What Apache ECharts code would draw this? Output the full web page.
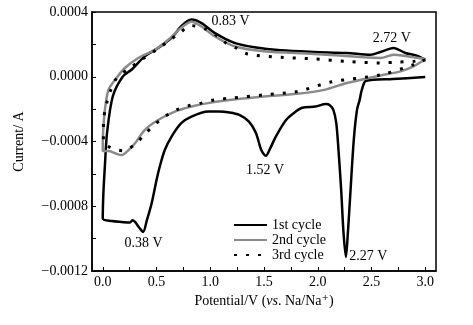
<!DOCTYPE html>
<html>
<head>
<meta charset="utf-8">
<script src="https://cdn.jsdelivr.net/npm/echarts@6/dist/echarts.min.js"></script>
<style>
  html, body { margin: 0; padding: 0; background: #fff; }
  #cv { width: 473px; height: 325px; }
</style>
</head>
<body>
<div id="cv"></div>
<script>
// potential (V) / current (A), in scan order
var cycle1 = [
    [3.00, -0.000002], [2.70, -0.000014], [2.45, -0.000025], [2.41, -0.000081],
    [2.39, -0.000143], [2.365, -0.000205], [2.335, -0.000391], [2.305, -0.000701],
    [2.28, -0.000967], [2.262, -0.001114], [2.24, -0.000967], [2.218, -0.000701],
    [2.193, -0.000453], [2.172, -0.000285], [2.145, -0.000205], [2.11, -0.000174],
    [2.075, -0.000169], [1.98, -0.000184], [1.855, -0.000192], [1.795, -0.000215],
    [1.705, -0.000267], [1.61, -0.000370], [1.55, -0.000453], [1.518, -0.000488],
    [1.475, -0.000453], [1.425, -0.000347], [1.36, -0.000277], [1.27, -0.000236],
    [1.18, -0.000221], [1.08, -0.000215], [0.98, -0.000215], [0.825, -0.000246],
    [0.73, -0.000287], [0.64, -0.000370], [0.577, -0.000453], [0.53, -0.000556],
    [0.50, -0.000639], [0.455, -0.000781], [0.41, -0.000887], [0.375, -0.000959],
    [0.335, -0.000928], [0.30, -0.000897], [0.275, -0.000887], [0.253, -0.000901],
    [0.175, -0.000897], [0.085, -0.000891], [0.0, -0.000876], [0.006, -0.000719],
    [0.02, -0.000550], [0.04, -0.000347], [0.093, -0.000122], [0.185, 0.0],
    [0.27, 0.000045], [0.39, 0.000126], [0.515, 0.000178], [0.64, 0.000240],
    [0.73, 0.000312], [0.825, 0.000353], [0.915, 0.000333], [1.04, 0.000271],
    [1.225, 0.000209], [1.41, 0.000182], [1.655, 0.000163], [1.965, 0.000153],
    [2.27, 0.000147], [2.49, 0.000136], [2.585, 0.000153], [2.705, 0.000178],
    [2.815, 0.000147], [2.92, 0.000130], [3.0, 0.000105]
];
var cycle2 = [
    [3.0, 0.000110], [2.89, 0.000064], [2.77, 0.000033], [2.585, 0.000008],
    [2.27, -0.000039], [2.06, -0.000081], [1.81, -0.000105], [1.50, -0.000122],
    [1.26, -0.000138], [0.98, -0.000163], [0.825, -0.000184], [0.67, -0.000215],
    [0.515, -0.000267], [0.39, -0.000329], [0.30, -0.000411], [0.24, -0.000453],
    [0.175, -0.000484], [0.115, -0.000473], [0.055, -0.000459], [0.0, -0.000459],
    [0.003, -0.000347], [0.02, -0.000205], [0.053, -0.000081], [0.115, -0.000019],
    [0.205, 0.000054], [0.33, 0.000116], [0.485, 0.000167], [0.61, 0.000229],
    [0.73, 0.000302], [0.825, 0.000339], [0.915, 0.000312], [1.04, 0.000250],
    [1.225, 0.000188], [1.50, 0.000157], [1.965, 0.000141], [2.43, 0.000120],
    [2.585, 0.000116], [2.705, 0.000136], [2.83, 0.000126], [3.0, 0.000110]
];
var cycle3 = [
    [3.0, 0.000105], [2.89, 0.000074], [2.585, 0.000012], [2.12, -0.000033],
    [1.81, -0.000091], [1.50, -0.000112], [1.195, -0.000132], [1.04, -0.000143],
    [0.915, -0.000163], [0.795, -0.000180], [0.685, -0.000205], [0.577, -0.000246],
    [0.47, -0.000304], [0.40, -0.000349], [0.30, -0.000417], [0.19, -0.000457],
    [0.075, -0.000438], [0.006, -0.000401], [0.006, -0.000285], [0.037, -0.000163],
    [0.075, -0.000081], [0.13, -0.000008], [0.253, 0.000054], [0.36, 0.000105],
    [0.50, 0.000167], [0.61, 0.000219], [0.715, 0.000271], [0.825, 0.000316],
    [0.95, 0.000296], [1.07, 0.000250], [1.145, 0.000209], [1.24, 0.000178],
    [1.345, 0.000141], [1.655, 0.000120], [1.965, 0.000110], [2.27, 0.000095],
    [2.585, 0.000085], [2.74, 0.000091], [2.89, 0.000095], [3.0, 0.000105]
];
var cycleNames = ['1st cycle', '2nd cycle', '3rd cycle'];
var xTicks = [0, 0.5, 1.0, 1.5, 2.0, 2.5, 3.0];
var xMinorTicks = [0, 0.25, 0.5, 0.75, 1.0, 1.25, 1.5, 1.75, 2.0, 2.25, 2.5, 2.75, 3.0];
var peakLabels = ['0.83 V', '2.72 V', '1.52 V', '0.38 V', '2.27 V'];

// where each peak label sits (data coords)
var labelAt = [[1.19, 0.000343], [2.69, 0.000240], [1.51, -0.000581], [0.38, -0.001028], [2.47, -0.00111]];

var serif = '"Liberation Serif", "DejaVu Serif", serif';
var myChart = echarts.init(document.getElementById('cv'));

var option = {
    animation: false,
    backgroundColor: '#fff',
    grid: {
        left: 92, top: 12, right: 37, bottom: 54,
        show: true, borderColor: '#000', borderWidth: 1.5
    },
    legend: {
        data: cycleNames,
        orient: 'vertical',
        left: 228, top: 213,
        itemWidth: 33, itemHeight: 14, itemGap: 1,
        itemStyle: { opacity: 0 },
        textStyle: { fontFamily: serif, fontSize: 14, color: '#000', lineHeight: 14 }
    },
    xAxis: {
        type: 'value',
        min: -0.1, max: 3.1,
        name: 'Potential/V ({it|vs}. Na/Na⁺)',
        nameLocation: 'middle',
        nameGap: 19,
        nameTextStyle: {
            fontFamily: serif, fontSize: 14, color: '#000',
            rich: { it: { fontFamily: serif, fontSize: 14, fontStyle: 'italic', color: '#000' } }
        },
        axisLine: { onZero: false, lineStyle: { color: '#000', width: 1.5 } },
        axisTick: { inside: true, length: 4, customValues: xMinorTicks, lineStyle: { color: '#000' } },
        axisLabel: {
            customValues: xTicks, margin: 4,
            fontFamily: serif, fontSize: 14, color: '#000',
            formatter: function (v) { return v.toFixed(1); }
        },
        splitLine: { show: false }
    },
    yAxis: {
        type: 'value',
        min: -0.0012, max: 0.0004, interval: 0.0004,
        name: 'Current/ A',
        nameLocation: 'middle',
        nameGap: 66,
        nameTextStyle: { fontFamily: serif, fontSize: 14, color: '#000' },
        axisLine: { onZero: false, lineStyle: { color: '#000', width: 1.5 } },
        axisTick: { inside: true, length: 4, lineStyle: { color: '#000' } },
        minorTick: { show: true, splitNumber: 2, length: 4, lineStyle: { color: '#000' } },
        axisLabel: {
            margin: 4, fontFamily: serif, fontSize: 14, color: '#000',
            formatter: function (v) {
                return (v < -1e-9 ? '\u2212' : '') + Math.abs(v).toFixed(4);
            }
        },
        splitLine: { show: false }
    },
    series: [{
        name: cycleNames[0],
        type: 'line',
        data: cycle1,
        symbol: 'none',
        smooth: 0.3,
        lineStyle: { color: '#000', width: 2.5 },
        itemStyle: { color: '#000' },
        markPoint: {
            symbol: 'circle', symbolSize: 0,
            label: {
                show: true, position: 'inside', formatter: '{b}',
                fontFamily: serif, fontSize: 14, color: '#000'
            },
            data: peakLabels.map(function (t, i) {
                return { name: t, coord: labelAt[i] };
            })
        }
    }, {
        name: cycleNames[1],
        type: 'line',
        data: cycle2,
        symbol: 'none',
        smooth: 0.3,
        lineStyle: { color: '#8a8a8a', width: 2.5 },
        itemStyle: { color: '#8a8a8a' }
    }, {
        name: cycleNames[2],
        type: 'line',
        data: cycle3,
        symbol: 'none',
        smooth: 0.3,
        lineStyle: { color: '#000', width: 3, type: [3, 9] },
        itemStyle: { color: '#000' }
    }]
};
myChart.setOption(option);
</script>
</body>
</html>
